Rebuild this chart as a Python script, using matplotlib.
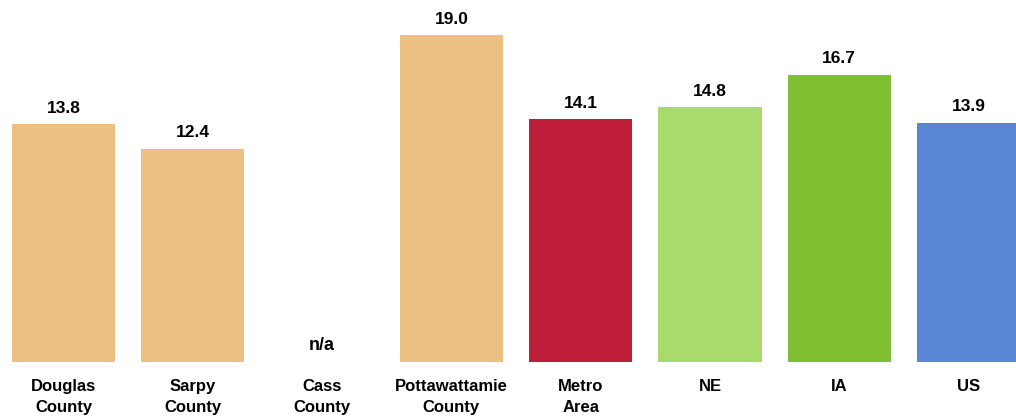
import matplotlib
matplotlib.use("Agg")
import matplotlib.pyplot as plt
from matplotlib import font_manager

categories = ["Douglas\nCounty", "Sarpy\nCounty", "Cass\nCounty", "Pottawattamie\nCounty",
              "Metro\nArea", "NE", "IA", "US"]
values = [13.8, 12.4, None, 19.0, 14.1, 14.8, 16.7, 13.9]
colors = ["#ECC083", "#ECC083", "#ECC083", "#ECC083", "#BE1E3A", "#A8DA6C", "#80BE32", "#5A86D6"]

names = {f.name for f in font_manager.fontManager.ttflist}
fam = "Liberation Sans Narrow" if "Liberation Sans Narrow" in names else "Liberation Sans"
plt.rcParams['font.family'] = [fam, 'DejaVu Sans']

fig = plt.figure(figsize=(10.16, 4.17), dpi=100)
ax = fig.add_axes([0, 0, 1, 1])
for i, v in enumerate(values):
    if v is not None:
        ax.bar(i, v, width=0.8, color=colors[i])
        ax.annotate(f"{v:.1f}", (i, v), xytext=(0, 6), textcoords="offset points",
                    ha="center", va="bottom", fontsize=12.5, fontweight="bold")
    else:
        ax.annotate("n/a", (i, 0), xytext=(0, 6), textcoords="offset points",
                    ha="center", va="bottom", fontsize=13, fontweight="bold")
    ax.annotate(categories[i], (i, 0), xytext=(0, -12), textcoords="offset points",
                ha="center", va="top", fontsize=12, fontweight="bold", linespacing=1.5)

ax.set_xlim(-0.491, 7.367)
ax.set_ylim(-3.196, 21.03)
ax.axis("off")
fig.savefig("out.png", dpi=100)
